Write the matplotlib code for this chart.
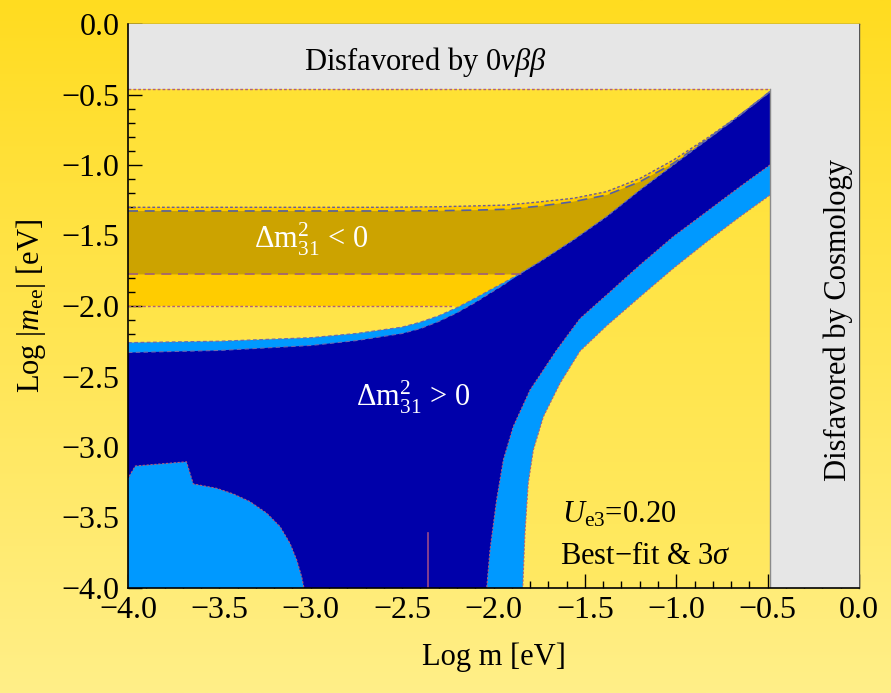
import numpy as np
import matplotlib
matplotlib.use('Agg')
import matplotlib.pyplot as plt
from matplotlib.ticker import MultipleLocator, FuncFormatter
from matplotlib.colors import LinearSegmentedColormap

plt.rcParams['font.family'] = ['Liberation Serif', 'DejaVu Serif']
plt.rcParams['mathtext.fontset'] = 'custom'
plt.rcParams['mathtext.rm'] = 'Liberation Serif'
plt.rcParams['mathtext.it'] = 'Liberation Serif:italic'
plt.rcParams['mathtext.bf'] = 'Liberation Serif:bold'

# ---------------- data ----------------
x_range = (-4.0, 0.0)
y_range = (-4.0, 0.0)
onbb_limit = -0.46      # Log |m_ee| upper limit (0vbb)
cosmo_limit = -0.487    # Log m upper limit (cosmology)

# Normal hierarchy, 3 sigma: upper boundary
nh3_up_x = [-4.0, -3.5, -3.0, -2.75, -2.5, -2.4, -2.3, -2.2, -2.1, -2.02, -1.93, -1.855, -1.746, -1.563, -1.381, -1.198, -1.016, -0.833, -0.651, -0.487]
nh3_up_y = [-2.26, -2.25, -2.225, -2.195, -2.15, -2.115, -2.07, -2.012, -1.945, -1.888, -1.825, -1.77, -1.686, -1.532, -1.366, -1.177, -1.0, -0.823, -0.645, -0.48]
# Normal hierarchy, 3 sigma: lower/right boundary
nh3_lo_x = [-0.487, -0.651, -0.833, -1.016, -1.198, -1.381, -1.527, -1.636, -1.727, -1.782, -1.81, -1.828, -1.84]
nh3_lo_y = [-1.213, -1.366, -1.544, -1.733, -1.934, -2.14, -2.32, -2.548, -2.785, -3.021, -3.258, -3.612, -4.0]

# Normal hierarchy, best fit: upper boundary
nhbf_up_x = [-4.0, -3.5, -3.0, -2.75, -2.5, -2.4, -2.3, -2.2, -2.1, -2.02, -1.93, -1.855, -1.746, -1.563, -1.381, -1.198, -1.016, -0.833, -0.651, -0.487]
nhbf_up_y = [-2.33, -2.315, -2.28, -2.245, -2.195, -2.16, -2.11, -2.048, -1.975, -1.91, -1.838, -1.775, -1.686, -1.532, -1.366, -1.177, -1.0, -0.823, -0.645, -0.48]
# Normal hierarchy, best fit: lower/right boundary
nhbf_lo_x = [-0.487, -0.651, -0.833, -1.016, -1.198, -1.381, -1.527, -1.654, -1.80, -1.892, -1.946, -1.983, -2.019, -2.037]
nhbf_lo_y = [-1.0, -1.154, -1.331, -1.508, -1.709, -1.922, -2.09, -2.312, -2.596, -2.856, -3.092, -3.376, -3.73, -4.0]

# Normal hierarchy, 3 sigma cancellation region (lower left)
nhc_x = [-4.0, -3.99, -3.96, -3.68, -3.643, -3.515, -3.424, -3.332, -3.241, -3.168, -3.114, -3.077, -3.05, -3.037, -4.0]
nhc_y = [-3.235, -3.20, -3.135, -3.105, -3.262, -3.293, -3.333, -3.388, -3.47, -3.565, -3.683, -3.801, -3.92, -4.0, -4.0]

# Inverted hierarchy, 3 sigma
ih3_up_x = [-4.0, -2.6, -2.293, -2.1, -1.928, -1.75, -1.563, -1.381, -1.198, -1.016, -0.833, -0.651, -0.487]
ih3_up_y = [-1.30, -1.30, -1.296, -1.29, -1.284, -1.262, -1.236, -1.189, -1.095, -0.965, -0.811, -0.645, -0.48]
ih3_lo_x = [-4.0, -2.22]
ih3_lo_y = [-2.0, -2.0]

# Inverted hierarchy, best fit
ihbf_up_x = [-4.0, -2.6, -2.293, -2.1, -1.928, -1.75, -1.563, -1.381, -1.198, -1.016, -0.833, -0.651, -0.487]
ihbf_up_y = [-1.326, -1.326, -1.324, -1.32, -1.314, -1.292, -1.26, -1.213, -1.118, -0.988, -0.82, -0.646, -0.48]
ihbf_lo_x = [-4.0, -1.846]
ihbf_lo_y = [-1.776, -1.776]

# small numerical spike
spike_x = [-2.36, -2.36]
spike_y = [-3.61, -4.0]

x_ticks = [-4.0, -3.5, -3.0, -2.5, -2.0, -1.5, -1.0, -0.5, 0.0]
y_ticks = [-4.0, -3.5, -3.0, -2.5, -2.0, -1.5, -1.0, -0.5, 0.0]

# ---------------- colours ----------------
c_dark_blue = '#0000AA'
c_light_blue = '#0099FF'
c_gold = '#CCA300'
c_orange = '#FFCC00'
c_gray = '#E6E6E6'
c_edge = '#6a5a9a'
c_edge2 = '#b0607a'

fig = plt.figure(figsize=(8.91, 6.93), dpi=100)

# figure background gradient
bg = fig.add_axes([0, 0, 1, 1], zorder=-10)
cm_fig = LinearSegmentedColormap.from_list('figbg', ['#FFDC20', '#FFEF88'])
bg.imshow(np.linspace(0, 1, 256)[:, None], aspect='auto', cmap=cm_fig, extent=[0, 1, 0, 1])
bg.set_axis_off()

ax = fig.add_axes([128/891, 1-588/693, (859-128)/891, (588-24)/693], zorder=1)
ax.patch.set_alpha(0)
cm_ax = LinearSegmentedColormap.from_list('axbg', ['#FFE02E', '#FFE963'])
ax.imshow(np.linspace(0, 1, 256)[:, None], aspect='auto', cmap=cm_ax,
          extent=[x_range[0], x_range[1], y_range[0], y_range[1]], zorder=0)

nh3_up_x_a = np.array(nh3_up_x); nh3_up_y_a = np.array(nh3_up_y)

# IH 3 sigma
m = nh3_up_x_a > ih3_lo_x[-1]
ih3_poly_x = ih3_up_x + list(nh3_up_x_a[m][::-1]) + ih3_lo_x[::-1]
ih3_poly_y = ih3_up_y + list(nh3_up_y_a[m][::-1]) + ih3_lo_y[::-1]
ax.fill(ih3_poly_x, ih3_poly_y, color=c_orange, lw=0, zorder=1)

# IH best fit
m = nh3_up_x_a > ihbf_lo_x[-1]
ihbf_poly_x = ihbf_up_x + list(nh3_up_x_a[m][::-1]) + ihbf_lo_x[::-1]
ihbf_poly_y = ihbf_up_y + list(nh3_up_y_a[m][::-1]) + ihbf_lo_y[::-1]
ax.fill(ihbf_poly_x, ihbf_poly_y, color=c_gold, lw=0, zorder=2)

# IH boundary lines
ax.plot(ih3_up_x, ih3_up_y, color=c_edge, lw=1.0, ls=(0, (2, 1.5)), zorder=6)
ax.plot(ih3_lo_x, ih3_lo_y, color=c_edge2, lw=1.0, ls=(0, (2, 1.5)), zorder=6)
ax.plot(ihbf_up_x, ihbf_up_y, color='#5560a0', lw=1.2, ls=(0, (6, 4)), zorder=6)
ax.plot(ihbf_lo_x, ihbf_lo_y, color='#a06078', lw=1.2, ls=(0, (6, 4)), zorder=6)

# NH 3 sigma
ax.fill(nh3_up_x + nh3_lo_x + [x_range[0]], nh3_up_y + nh3_lo_y + [y_range[0]],
        color=c_light_blue, lw=0, zorder=3)
# NH best fit
ax.fill(nhbf_up_x + nhbf_lo_x + [x_range[0]], nhbf_up_y + nhbf_lo_y + [y_range[0]],
        color=c_dark_blue, lw=0, zorder=4)
# NH cancellation region
ax.fill(nhc_x, nhc_y, color=c_light_blue, lw=0, zorder=5)

# NH boundary lines
ax.plot(nh3_up_x, nh3_up_y, color='#6a6ab0', lw=0.9, ls=(0, (3, 2)), zorder=6)
ax.plot(nhbf_up_x[:11], nhbf_up_y[:11], color='#6a6ab0', lw=0.8, ls=(0, (4, 3)), zorder=6)
ax.plot(nh3_lo_x, nh3_lo_y, color=c_edge2, lw=0.8, ls=(0, (2, 1.5)), zorder=6)
ax.plot(nhbf_lo_x, nhbf_lo_y, color=c_edge2, lw=0.8, ls=(0, (2, 1.5)), zorder=6)
ax.plot(nhc_x[:-1], nhc_y[:-1], color=c_edge2, lw=0.8, ls=(0, (2, 1.5)), zorder=6)
ax.plot(spike_x, spike_y, color='#9a4a8a', lw=1.2, zorder=6)

# disfavoured regions
ax.fill([x_range[0], x_range[1], x_range[1], x_range[0]],
        [onbb_limit, onbb_limit, y_range[1], y_range[1]], color=c_gray, lw=0, zorder=7)
ax.fill([cosmo_limit, x_range[1], x_range[1], cosmo_limit],
        [y_range[0], y_range[0], onbb_limit, onbb_limit], color=c_gray, lw=0, zorder=7)
ax.plot([x_range[0], cosmo_limit], [onbb_limit, onbb_limit], color=c_edge2, lw=1.0,
        ls=(0, (2, 1.5)), zorder=8)
ax.plot([cosmo_limit, cosmo_limit], [y_range[0], onbb_limit], color='#8a8a8a', lw=1.0, zorder=8)

ax.set_xlim(*x_range)
ax.set_ylim(*y_range)

# texts
ax.text(-2.375, -0.27, r'Disfavored by 0$\nu\beta\beta$', fontsize=22, ha='center', va='center', zorder=9)
ax.text(-0.115, -2.10, 'Disfavored by Cosmology', fontsize=22, rotation=90, ha='center', va='center', zorder=9)
ax.text(-3.0, -1.53, r'$\Delta\mathrm{m}^2_{31}$ < 0', fontsize=22, color='white', ha='center', va='center', zorder=9)
ax.text(-2.44, -2.645, r'$\Delta\mathrm{m}^2_{31}$ > 0', fontsize=22, color='white', ha='center', va='center', zorder=9)
ax.text(-1.31, -3.48, r'$U_{\mathrm{e3}}$=0.20', fontsize=22, ha='center', va='center', zorder=9)
ax.text(-1.17, -3.78, 'Best\u2212fit & 3$\\sigma$', fontsize=22, ha='center', va='center', zorder=9)

# axes styling
fmt = FuncFormatter(lambda v, p: ('%.1f' % (0.0 if abs(v) < 1e-9 else v)).replace('-', '\u2212'))
ax.set_xticks(x_ticks)
ax.set_yticks(y_ticks)
ax.xaxis.set_major_formatter(fmt)
ax.yaxis.set_major_formatter(fmt)
ax.xaxis.set_minor_locator(MultipleLocator(0.1))
ax.yaxis.set_minor_locator(MultipleLocator(0.1))
ax.tick_params(which='both', direction='in', top=False, right=False, labelsize=23, width=1.0)
ax.tick_params(which='major', length=10, pad=6)
ax.tick_params(which='minor', length=5)
for t in ax.get_xticklines() + ax.get_yticklines():
    t.set_zorder(10)
for s in ['left', 'bottom']:
    ax.spines[s].set_linewidth(1.2)
    ax.spines[s].set_zorder(10)
ax.spines['top'].set_color('#555555')
ax.spines['top'].set_linestyle((0, (2, 1)))
ax.spines['right'].set_color('#555555')
ax.spines['top'].set_linewidth(1.0)
ax.spines['right'].set_linewidth(1.0)

ax.set_xlabel('Log m [eV]', fontsize=22, labelpad=12)
ax.set_ylabel(r'Log $|m_{\mathrm{ee}}|$ [eV]', fontsize=22, labelpad=10)

fig.savefig('out.png', dpi=100)
